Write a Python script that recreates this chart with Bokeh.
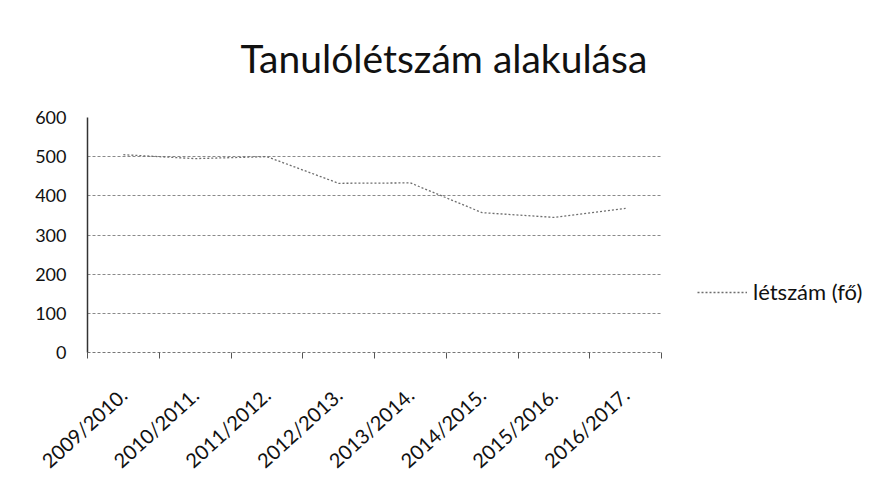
import math
from bokeh.plotting import figure
from bokeh.models import Range1d, FixedTicker, Legend, LegendItem
from bokeh.embed import file_html
from bokeh.resources import INLINE

categories = ["2009/2010.", "2010/2011.", "2011/2012.", "2012/2013.",
              "2013/2014.", "2014/2015.", "2015/2016.", "2016/2017."]
values = [505, 495, 500, 432, 433, 357, 345, 368]
y_ticks = [0, 100, 200, 300, 400, 500, 600]
series_name = "létszám (fő)"
title_text = "Tanulólétszám alakulása"

n = len(categories)
xs = [i + 0.5 for i in range(n)]

p = figure(frame_width=574, frame_height=235, output_backend="svg", toolbar_location=None,
           x_range=Range1d(0, n), y_range=Range1d(0, 600),
           min_border_left=87, min_border_right=215,
           min_border_top=117, min_border_bottom=125)
p.outline_line_color = None
p.background_fill_color = "white"
p.border_fill_color = "white"

p.title.text = title_text
p.title.text_font = "Lato"
p.title.text_font_size = "39px"
p.title.text_font_style = "normal"
p.title.text_color = "#111111"
p.title.align = "left"
p.title.offset = 153
p.title.vertical_align = "top"
p.title.standoff = 69

# grid
p.xgrid.visible = False
p.ygrid.ticker = FixedTicker(ticks=y_ticks)
p.ygrid.grid_line_color = "#8a8a8a"
p.ygrid.grid_line_dash = "3 2"
p.ygrid.grid_line_width = 1

# x axis: labels at category centres, tick marks at category boundaries
xa = p.xaxis[0]
xa.ticker = FixedTicker(ticks=xs, minor_ticks=list(range(n + 1)))
xa.major_label_overrides = {x: c for x, c in zip(xs, categories)}
xa.major_label_orientation = 0.74
xa.major_label_text_font = "Lato"
xa.major_label_text_font_size = "20px"
xa.major_label_text_color = "#111111"
xa.major_label_standoff = 33
xa.axis_line_color = "#777777"
xa.axis_line_dash = "3 2"
xa.major_tick_line_color = None
xa.major_tick_in = 0
xa.major_tick_out = 0
xa.minor_tick_line_color = "#555555"
xa.minor_tick_in = 0
xa.minor_tick_out = 6

# y axis
ya = p.yaxis[0]
ya.ticker = FixedTicker(ticks=y_ticks)
ya.major_label_text_font = "Lato"
ya.major_label_text_font_size = "18px"
ya.major_label_text_color = "#111111"
ya.major_label_standoff = 21
ya.axis_line_color = "#333333"
ya.axis_line_width = 1.5
ya.major_tick_line_color = None
ya.major_tick_in = 0
ya.major_tick_out = 0
ya.minor_tick_line_color = None

r = p.line(xs, values, line_color="#6e6e6e", line_width=1.3, line_dash="2 2")

legend = Legend(items=[LegendItem(label=series_name, renderers=[r])],
                location=(36, 47))
legend.label_text_font = "Lato"
legend.label_text_font_size = "22px"
legend.label_text_color = "#111111"
legend.glyph_width = 50
legend.border_line_color = None
legend.background_fill_alpha = 0
legend.padding = 2
legend.label_standoff = 6
p.add_layout(legend, "right")

open("out.html", "w").write(file_html(p, INLINE))
